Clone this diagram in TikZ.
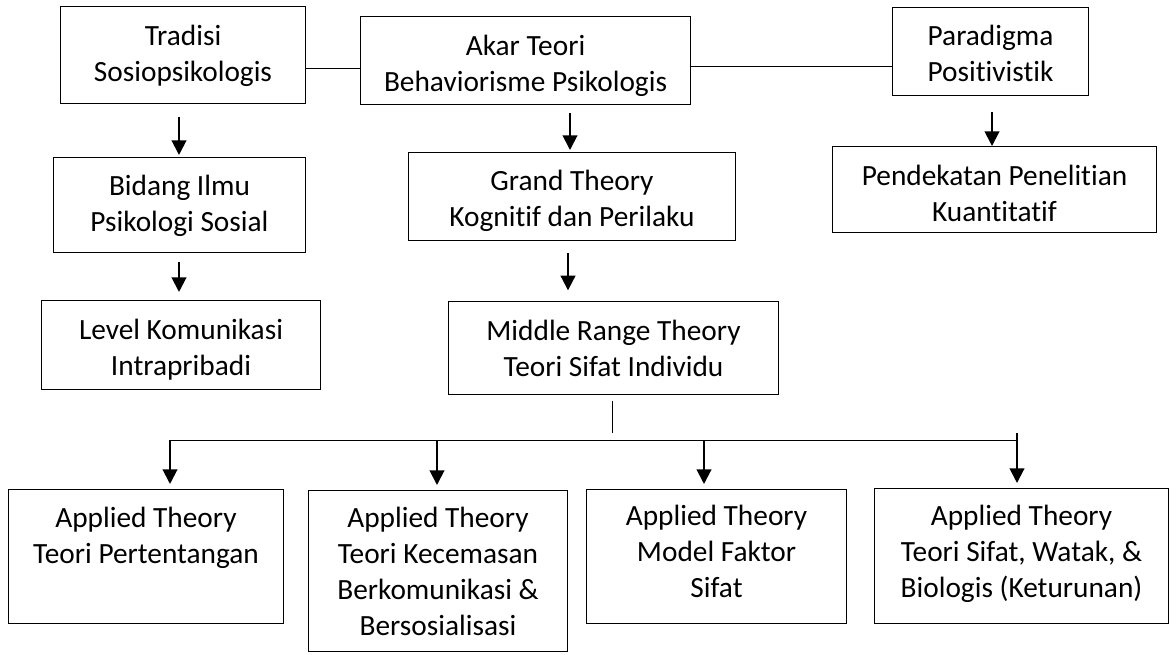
\documentclass[tikz,border=0pt]{standalone}
\usepackage{fontspec}
\setmainfont{Carlito}[Ligatures=NoCommon]
\usetikzlibrary{arrows.meta}

% \tbox{name}{x1}{y1}{x2}{y2}{first baseline below top}{text}
\newcommand\tbox[7]{%
  \pgfmathsetlengthmacro\bw{(#4-#2)*0.75pt}%
  \pgfmathsetlengthmacro\bh{(#5-#3)*0.75pt}%
  \pgfmathsetlengthmacro\bb{#6*0.75pt}%
  \node[boxline] (#1) at (#2,#3)
    {\parbox[c][\bh][t]{\bw}{\centering\rule{0pt}{\bb}#7}};}

\begin{document}
\begin{tikzpicture}[x=0.75pt,y=-0.75pt,
  boxline/.style={draw=black,line width=0.75pt,inner sep=0pt,anchor=north west,
                  font=\fontsize{22pt}{27pt}\selectfont},
  link/.style={line width=0.75pt},
  arr/.style={line width=1.5pt,-{Triangle[length=11pt,width=11pt]}}]
\useasboundingbox (0,0) rectangle (1176,655);

% top row
\tbox{tradisi}{60}{6}{305}{103}{39}{Tradisi\\Sosiopsikologis}
\tbox{akar}{360}{16}{690}{104}{39}{Akar Teori\\Behaviorisme Psikologis}
\tbox{paradigma}{892}{7}{1088}{95}{38}{Paradigma\\Positivistik}

% second row
\tbox{bidang}{53}{157}{305}{252}{38}{Bidang Ilmu\\Psikologi Sosial}
\tbox{grand}{408}{152}{735}{240}{38}{Grand Theory\\Kognitif dan Perilaku}
\tbox{pend}{832}{146}{1156}{232}{39}{Pendekatan Penelitian\\Kuantitatif}

% third row
\tbox{level}{41}{300}{320}{389}{39}{Level Komunikasi\\Intrapribadi}
\tbox{middle}{448}{301}{778}{394}{39}{Middle Range Theory\\Teori Sifat Individu}

% applied theories
\tbox{apA}{8}{489}{283}{623}{38}{Applied Theory\\Teori Pertentangan}
\tbox{apB}{308}{490}{567}{651}{37}{Applied Theory\\Teori Kecemasan\\Berkomunikasi \&\\Bersosialisasi}
\tbox{apC}{586}{489}{846}{623}{36}{Applied Theory\\Model Faktor\\Sifat}
\tbox{apD}{874}{488}{1168}{623}{37}{Applied Theory\\Teori Sifat, Watak, \&\\Biologis (Keturunan)}

% horizontal links between the roots
\coordinate (j1) at (0,69);
\coordinate (j2) at (0,67);
\draw[link] (tradisi.east |- j1) -- (akar.west |- j1);
\draw[link] (akar.east |- j2) -- (paradigma.west |- j2);

% downward arrows
\coordinate (s1) at (179,117);
\coordinate (s2) at (570,113);
\coordinate (s3) at (992,112);
\coordinate (s4) at (179,262);
\coordinate (s5) at (568,253);
\draw[arr,shorten >=1.5pt] (s1) -- (s1 |- bidang.north);
\draw[arr,shorten >=1.5pt] (s2) -- (s2 |- grand.north);
\draw[arr] (s3) -- (s3 |- pend.north);
\draw[arr,shorten >=6pt] (s4) -- (s4 |- level.north);
\draw[arr,shorten >=8pt] (s5) -- (s5 |- middle.north);

% branching to the applied theories
\coordinate (m1) at (612,401);
\coordinate (m2) at (612,433);
\draw[link] (m1) -- (m2);
\coordinate (b1) at (170,440);
\coordinate (b2) at (437,440);
\coordinate (b3) at (704,440);
\coordinate (b4) at (1017,440);
\coordinate (b4t) at (1017,433);
\draw[link] (b1) -- (b4);
\draw[arr,shorten >=3.75pt] (b1) -- (b1 |- apA.north);
\draw[arr,shorten >=3.75pt] (b2) -- (b2 |- apB.north);
\draw[arr,shorten >=3.75pt] (b3) -- (b3 |- apC.north);
\draw[arr,shorten >=3.75pt] (b4t) -- (b4t |- apD.north);
\end{tikzpicture}
\end{document}
